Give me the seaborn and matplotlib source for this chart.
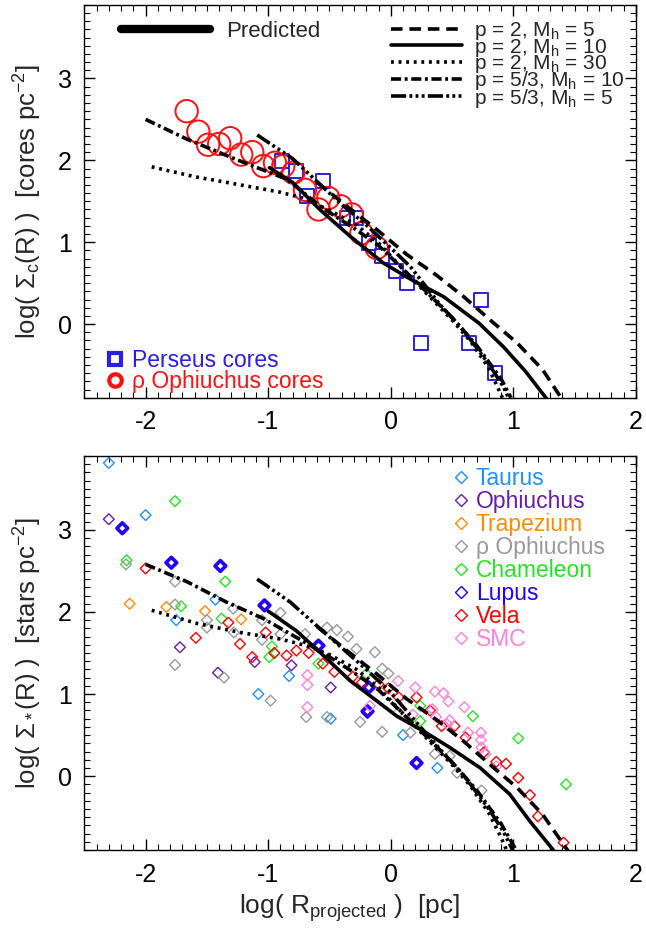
import numpy as np
import pandas as pd
import matplotlib
matplotlib.use('Agg')
import matplotlib.pyplot as plt
from matplotlib.lines import Line2D
from matplotlib.ticker import MultipleLocator
import seaborn as sns

sns.set_theme(style='ticks')
plt.rcParams['font.family'] = ['Liberation Sans', 'DejaVu Sans']
plt.rcParams['mathtext.fontset'] = 'custom'
plt.rcParams['mathtext.rm'] = 'Liberation Sans'
plt.rcParams['mathtext.it'] = 'Liberation Sans:italic'
plt.rcParams['mathtext.bf'] = 'Liberation Sans:bold'
plt.rcParams['axes.unicode_minus'] = False

# --- model curves (upper panel: cores) ---
top_p2_m5_x = [-0.60, -0.35, -0.115, 0.13, 0.37, 0.59, 0.81, 1.03, 1.24, 1.38]
top_p2_m5_y = [1.73, 1.43, 1.155, 0.85, 0.60, 0.34, 0.05, -0.23, -0.56, -0.88]
top_p2_m10_x = [-0.99, -0.80, -0.58, -0.33, -0.06, 0.17, 0.43, 0.72, 0.92, 1.10, 1.27]
top_p2_m10_y = [1.91, 1.73, 1.40, 1.07, 0.745, 0.54, 0.335, 0.01, -0.28, -0.58, -0.91]
top_p2_m30_x = [-1.95, -1.60, -1.30, -0.90, -0.72, -0.50, -0.28, -0.10, 0.10, 0.30, 0.50, 0.65, 0.80, 0.88, 0.91]
top_p2_m30_y = [1.92, 1.80, 1.72, 1.61, 1.54, 1.39, 1.21, 0.99, 0.67, 0.36, 0.05, -0.21, -0.54, -0.80, -0.90]
top_p53_m10_x = [-2.00, -1.665, -1.26, -0.85, -0.55, -0.30, -0.10, 0.10, 0.30, 0.50, 0.70, 0.90, 0.98]
top_p53_m10_y = [2.50, 2.26, 2.01, 1.77, 1.41, 1.17, 0.96, 0.67, 0.38, 0.08, -0.26, -0.67, -0.90]
top_p53_m5_x = [-1.09, -0.80, -0.58, -0.40, -0.20, 0.00, 0.16, 0.40, 0.60, 0.80, 0.92, 0.96]
top_p53_m5_y = [2.31, 2.02, 1.71, 1.46, 1.21, 0.93, 0.70, 0.24, -0.09, -0.49, -0.77, -0.90]

# --- model curves (lower panel: stars) ---
bot_p2_m5_x = [-0.60, -0.35, -0.115, 0.13, 0.37, 0.59, 0.81, 1.03, 1.24, 1.45]
bot_p2_m5_y = [1.82, 1.52, 1.245, 0.94, 0.69, 0.43, 0.14, -0.14, -0.47, -0.92]
bot_p2_m10_x = [-1.00, -0.77, -0.55, -0.33, -0.17, 0.05, 0.265, 0.48, 0.73, 0.97, 1.135, 1.325]
bot_p2_m10_y = [2.01, 1.77, 1.47, 1.16, 0.98, 0.73, 0.55, 0.35, 0.10, -0.22, -0.55, -0.90]
bot_p2_m30_x = [-1.95, -1.58, -1.23, -0.90, -0.69, -0.50, -0.28, -0.10, 0.10, 0.30, 0.50, 0.65, 0.80, 0.90, 0.95]
bot_p2_m30_y = [2.02, 1.86, 1.75, 1.67, 1.59, 1.48, 1.30, 1.08, 0.76, 0.45, 0.14, -0.12, -0.45, -0.75, -0.92]
bot_p53_m10_x = [-2.00, -1.665, -1.34, -1.04, -0.77, -0.55, -0.30, -0.10, 0.10, 0.30, 0.50, 0.70, 0.90, 1.03]
bot_p53_m10_y = [2.58, 2.37, 2.12, 1.92, 1.69, 1.50, 1.26, 1.05, 0.76, 0.47, 0.17, -0.17, -0.58, -0.92]
bot_p53_m5_x = [-1.09, -0.82, -0.58, -0.39, -0.20, 0.00, 0.20, 0.40, 0.60, 0.80, 0.92, 1.00]
bot_p53_m5_y = [2.40, 2.12, 1.80, 1.55, 1.30, 1.02, 0.67, 0.33, 0.00, -0.40, -0.68, -0.92]

model_keys = ['p2_m5', 'p2_m10', 'p2_m30', 'p53_m10', 'p53_m5']
model_labels = ['p = 2, M$_\\mathrm{h}$ = 5', 'p = 2, M$_\\mathrm{h}$ = 10',
                'p = 2, M$_\\mathrm{h}$ = 30', 'p = 5/3, M$_\\mathrm{h}$ = 10',
                'p = 5/3, M$_\\mathrm{h}$ = 5']
dash_map = {'p2_m5': (3.2, 1.9), 'p2_m10': '', 'p2_m30': (0.8, 1.3),
            'p53_m10': (2.8, 1.0, 0.8, 1.0),
            'p53_m5': (4.2, 0.9, 0.8, 0.9, 0.8, 0.9, 0.8, 0.9)}

# --- cores (upper panel) ---
perseus_x = [-0.89, -0.776, -0.55, -0.686, -0.36, -0.28, -0.18, -0.07, 0.04, 0.135, 0.25, 0.64, 0.735, 0.85]
perseus_y = [1.99, 1.87, 1.75, 1.56, 1.30, 1.30, 0.99, 0.83, 0.65, 0.50, -0.23, -0.23, 0.29, -0.60]
rhooph_x = [-1.665, -1.57, -1.49, -1.40, -1.31, -1.22, -1.13, -1.04, -0.945, -0.877,
            -0.795, -0.70, -0.59, -0.51, -0.41, -0.32, -0.24, -0.115]
rhooph_y = [2.60, 2.35, 2.19, 2.20, 2.27, 2.07, 2.10, 1.93, 1.97, 1.93,
            1.85, 1.64, 1.40, 1.54, 1.44, 1.34, 1.11, 0.93]

# --- stars (lower panel) ---
taurus_x = [-2.30, -2.00, -1.75, -1.43, -0.83, -1.08, -0.49, 0.10, 0.38]
taurus_y = [3.815, 3.18, 1.90, 2.15, 1.22, 1.00, 0.70, 0.50, 0.10]
ophiuchus_x = [-2.30, -1.72, -1.41, -1.11, -0.81, -0.49, -0.19]
ophiuchus_y = [3.13, 1.57, 1.26, 1.39, 1.35, 1.08, 0.77]
trapezium_x = [-2.13, -1.83, -1.515, -1.22]
trapezium_y = [2.10, 2.06, 2.01, 1.91]
rhooph_star_x = [-2.16, -1.76, -1.76, -1.76, -1.50, -1.50, -1.36, -1.285, -1.28, -1.05, -1.05,
                 -0.98, -0.90, -0.90, -0.70, -0.69, -0.52, -0.52, -0.44, -0.35, -0.28,
                 -0.25, -0.13, -0.07, -0.07, -0.02, 0.16, 0.36, 0.48, 0.54, 0.74]
rhooph_star_y = [2.58, 2.37, 2.09, 1.355, 1.90, 1.81, 1.20, 2.04, 1.75, 1.90, 1.66,
                 0.92, 1.99, 1.73, 1.73, 0.72, 1.81, 0.72, 1.78, 1.70, 1.55,
                 0.66, 1.51, 1.31, 0.54, 1.25, 0.53, 0.27, 0.245, 0.04, -0.175]
chameleon_x = [-1.76, -2.155, -1.71, -1.35, -1.38, -0.97, -0.99, -0.95, -0.59, -0.20,
               0.24, 0.24, 0.67, 1.04, 1.43]
chameleon_y = [3.35, 2.63, 2.07, 2.37, 1.92, 1.58, 1.45, 1.50, 1.37, 1.245,
               0.857, 0.67, 0.73, 0.46, -0.10]
lupus_x = [-2.19, -1.79, -1.39, -1.03, -0.59, -0.18, -0.19, 0.21]
lupus_y = [3.02, 2.60, 2.56, 2.08, 1.59, 1.08, 0.79, 0.16]
vela_x = [-2.00, -1.59, -1.325, -1.23, -1.13, -1.02, -0.95, -0.85, -0.77, -0.67, -0.555,
          -0.46, -0.31, -0.235, -0.10, -0.02, 0.065, 0.21, 0.32, 0.415, 0.52, 0.61,
          0.76, 0.86, 0.94, 1.04, 1.135, 1.20, 1.41]
vela_y = [2.53, 1.685, 1.87, 1.61, 1.45, 1.75, 1.50, 1.47, 1.53, 1.50, 1.37,
          1.27, 1.21, 1.14, 1.12, 1.07, 0.96, 0.96, 0.80, 0.61, 0.61, 0.47,
          0.29, 0.175, 0.15, -0.02, -0.23, -0.49, -0.81]
smc_x = [-0.68, -0.68, -0.68, -0.17, 0.06, 0.20, 0.36, 0.43, 0.47, 0.60, 0.34, 0.37,
         0.48, 0.46, 0.18, 0.06, 0.63, 0.735, 0.735, 0.74, 0.77, 0.86]
smc_y = [1.23, 1.11, 0.84, 0.855, 1.16, 1.08, 1.03, 1.01, 0.91, 0.84, 0.815, 0.72,
         0.68, 0.63, 0.75, 0.775, 0.53, 0.53, 0.44, 0.35, 0.265, 0.12]

region_names = ['Taurus', 'Ophiuchus', 'Trapezium', 'ρ Ophiuchus', 'Chameleon', 'Lupus', 'Vela', 'SMC']
region_colors = ['#1E90FF', '#6A1BA8', '#FF8C00', '#999999', '#22E622', '#2200FF', '#FF0000', '#FF80DC']


def curves_frame(prefix):
    g = globals()
    rows = []
    for k in model_keys:
        xs = g[prefix + k + '_x']
        ys = g[prefix + k + '_y']
        rows.append(pd.DataFrame({'x': xs, 'y': ys, 'model': k}))
    return pd.concat(rows, ignore_index=True)


def style_axis(ax):
    ax.set_xlim(-2.5, 2.0)
    ax.set_ylim(-0.9, 3.9)
    ax.xaxis.set_major_locator(MultipleLocator(1))
    ax.xaxis.set_minor_locator(MultipleLocator(0.1))
    ax.yaxis.set_major_locator(MultipleLocator(1))
    ax.yaxis.set_minor_locator(MultipleLocator(0.1))
    ax.tick_params(which='both', direction='in', top=True, right=True, colors='black')
    ax.tick_params(which='major', length=8, width=1.0, labelsize=18, pad=9)
    ax.tick_params(which='minor', length=4, width=0.8)
    for sp in ax.spines.values():
        sp.set_linewidth(1.0)
        sp.set_color('black')
    ax.set_facecolor('white')


fig = plt.figure(figsize=(6.46, 9.35), dpi=100)
ax1 = fig.add_axes([0.1305, 0.5746, 0.854, 0.4203])
ax2 = fig.add_axes([0.1305, 0.0909, 0.854, 0.4214])

# ---------------- upper panel ----------------
df_top = curves_frame('top_')
sns.lineplot(data=df_top, x='x', y='y', style='model', style_order=model_keys, dashes=dash_map,
             color='black', lw=2.6, sort=False, estimator=None, legend=False, ax=ax1, zorder=3)

df_pers = pd.DataFrame({'x': perseus_x, 'y': perseus_y})
df_roc = pd.DataFrame({'x': rhooph_x, 'y': rhooph_y})
sns.scatterplot(data=df_pers, x='x', y='y', marker='s', s=100, facecolor='none',
                edgecolor='#2B1FE0', linewidth=1.4, ax=ax1, zorder=2)
sns.scatterplot(data=df_roc, x='x', y='y', marker='o', s=260, facecolor='none',
                edgecolor='#FF1010', linewidth=1.4, ax=ax1, zorder=2)

style_axis(ax1)
ax1.set_xlabel('')
ax1.set_ylabel('log( Σ$_\\mathrm{c}$(R) )  [cores pc$^{-2}$]', fontsize=18.5, labelpad=10)

h_pred = [Line2D([], [], color='black', lw=6)]
leg_a = ax1.legend(h_pred, ['Predicted'], loc='upper left', bbox_to_anchor=(0.045, 0.99),
                   frameon=False, fontsize=16, handlelength=4.0, handletextpad=0.7,
                   borderaxespad=0.15)
ax1.add_artist(leg_a)

h_mod = []
for k in model_keys:
    if dash_map[k] == '':
        h_mod.append(Line2D([], [], color='black', lw=2.6, linestyle='-'))
    else:
        h_mod.append(Line2D([], [], color='black', lw=2.6, dashes=dash_map[k]))
leg_b = ax1.legend(h_mod, model_labels, loc='upper left', bbox_to_anchor=(0.535, 0.99),
                   frameon=False, fontsize=15, handlelength=3.4, handletextpad=0.6,
                   labelspacing=-0.27, borderaxespad=0.15)
ax1.add_artist(leg_b)

h_core = [Line2D([], [], marker='s', ls='', ms=8, mfc='none', mec='#2B1FE0', mew=3),
          Line2D([], [], marker='o', ls='', ms=9, mfc='none', mec='#FF1010', mew=3)]
leg_c = ax1.legend(h_core, ['Perseus cores', 'ρ Ophiuchus cores'], loc='lower left',
                   bbox_to_anchor=(0.02, -0.013), frameon=False, fontsize=16.5, handlelength=0.8,
                   handletextpad=0.35, labelspacing=-0.1, borderaxespad=0.05)
for t, c in zip(leg_c.get_texts(), ['#2B1FE0', '#FF1010']):
    t.set_color(c)

# ---------------- lower panel ----------------
df_bot = curves_frame('bot_')
sns.lineplot(data=df_bot, x='x', y='y', style='model', style_order=model_keys, dashes=dash_map,
             color='black', lw=2.6, sort=False, estimator=None, legend=False, ax=ax2, zorder=3)

star_x = [taurus_x, ophiuchus_x, trapezium_x, rhooph_star_x, chameleon_x, lupus_x, vela_x, smc_x]
star_y = [taurus_y, ophiuchus_y, trapezium_y, rhooph_star_y, chameleon_y, lupus_y, vela_y, smc_y]
frames = []
for name, xs, ys in zip(region_names, star_x, star_y):
    frames.append(pd.DataFrame({'x': xs, 'y': ys, 'region': name}))
df_stars = pd.concat(frames, ignore_index=True)

for name, col in zip(region_names, region_colors):
    sub = df_stars[df_stars['region'] == name]
    lw = 2.6 if name == 'Lupus' else 1.0
    sns.scatterplot(data=sub, x='x', y='y', marker='D', s=30, facecolor='none',
                    edgecolor=col, linewidth=lw, ax=ax2, zorder=2)

style_axis(ax2)
ax2.set_xlabel('log( R$_\\mathrm{projected}$ )  [pc]', fontsize=19)
ax2.set_ylabel('log( Σ$_*$(R) )  [stars pc$^{-2}$]', fontsize=18.5, labelpad=10)
ax2.xaxis.set_label_coords(0.48, -0.108)

h_reg = [Line2D([], [], marker='D', ls='', ms=6, mfc='none', mec=c, mew=1.0) for c in region_colors]
leg_d = ax2.legend(h_reg, region_names, loc='upper left', bbox_to_anchor=(0.645, 1.007),
                   frameon=False, fontsize=16.5, handlelength=0.6, handletextpad=0.35,
                   labelspacing=0.0, borderaxespad=0.2)
for t, c in zip(leg_d.get_texts(), region_colors):
    t.set_color(c)

fig.savefig('out.png', dpi=100, facecolor='white')
